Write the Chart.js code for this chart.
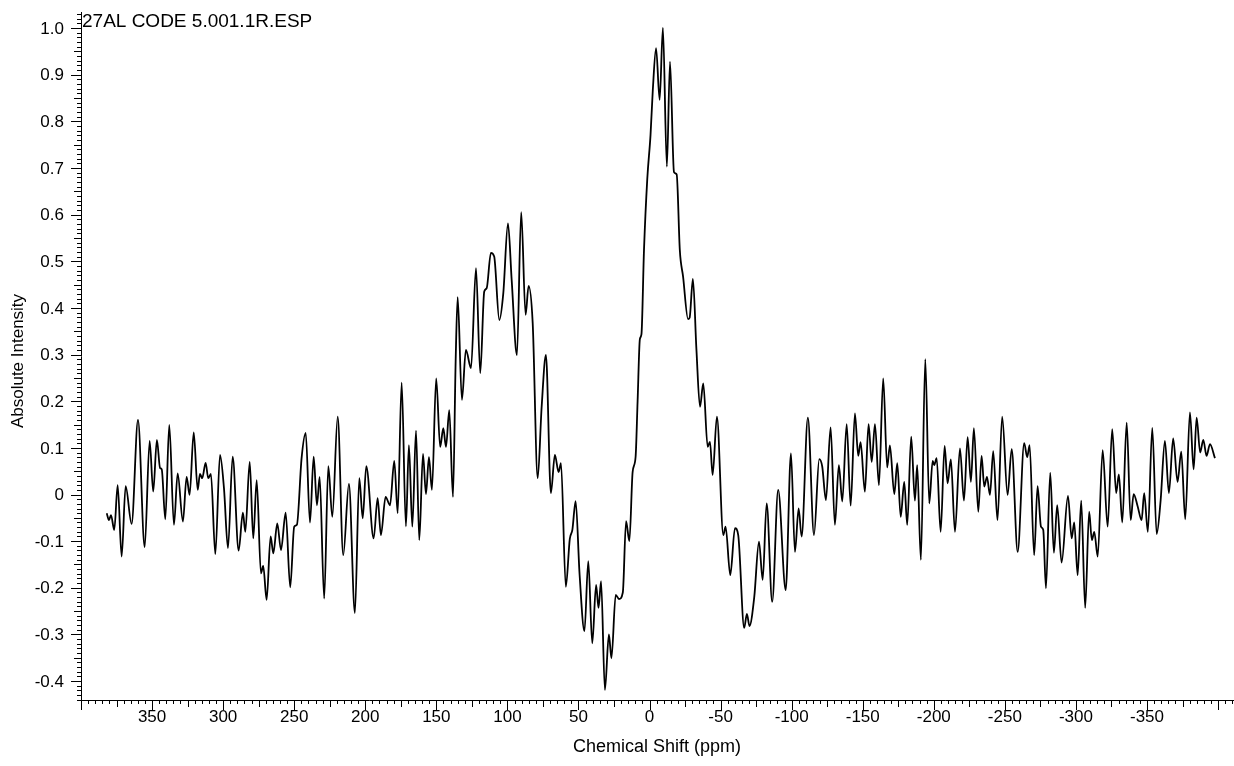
<!DOCTYPE html>
<html>
<head>
<meta charset="utf-8">
<title>27AL CODE 5.001.1R.ESP</title>
<script src="https://cdn.jsdelivr.net/npm/chart.js@4.4.1/dist/chart.umd.min.js"></script>
<style>
  html, body { margin: 0; padding: 0; background: #ffffff; }
  canvas { display: block; }
</style>
</head>
<body>
<canvas id="spectrum" width="1234" height="766"></canvas>
<script>
// 27Al NMR spectrum: chemical shift (ppm) against absolute intensity
const shiftPpm = [
  381.9, 380.3, 378.9, 376.6, 374.2, 371.4, 368.6, 364.4, 359.9, 355.2,
  351.7, 349.2, 346.6, 344.4, 343.2, 340.7, 337.9, 334.6, 332.0, 328.3,
  325.7, 323.6, 320.7, 317.9, 316.3, 314.7, 312.3, 310.5, 308.6, 305.5,
  302.2, 299.4, 296.6, 293.3, 289.1, 286.1, 284.4, 281.3, 278.8, 276.4,
  273.4, 271.8, 269.4, 266.6, 264.7, 261.9, 259.3, 256.0, 252.8, 250.0,
  248.1, 244.8, 241.9, 238.9, 236.3, 234.0, 232.1, 228.9, 226.0, 223.2,
  219.4, 215.5, 211.5, 207.3, 204.2, 201.8, 199.3, 194.1, 191.3, 189.0,
  185.7, 182.6, 179.6, 177.2, 174.4, 171.4, 169.3, 166.9, 164.3, 162.0,
  159.4, 157.3, 155.2, 153.1, 150.1, 147.3, 145.1, 143.2, 140.9, 138.3,
  136.4, 135.0, 132.0, 129.2, 125.6, 122.1, 119.1, 116.3, 114.6, 111.6,
  109.3, 105.7, 102.9, 99.6, 97.0, 93.3, 90.3, 87.2, 85.1, 82.2,
  78.7, 75.9, 72.9, 69.4, 66.6, 64.0, 62.3, 58.9, 56.1, 54.3,
  52.0, 49.2, 45.8, 43.1, 40.3, 37.6, 35.9, 34.1, 31.4, 28.6,
  26.8, 23.8, 21.5, 18.8, 16.5, 14.2, 11.9, 9.8, 8.4, 6.8,
  5.7, 3.9, 1.6, -0.7, -2.3, -4.6, -7.1, -9.4, -12.2, -14.4,
  -17.2, -19.1, -21.3, -23.6, -27.1, -28.2, -30.5, -33.0, -35.5, -37.8,
  -40.9, -42.5, -44.4, -47.4, -51.9, -53.5, -56.8, -60.1, -62.4, -66.6,
  -68.5, -70.3, -73.7, -77.0, -79.6, -82.4, -86.3, -90.5, -95.8, -99.5,
  -102.3, -104.9, -107.0, -111.4, -115.7, -119.4, -121.5, -124.1, -127.4, -130.4,
  -133.2, -135.6, -138.7, -141.5, -144.5, -146.8, -148.5, -151.5, -154.1, -156.3,
  -158.6, -161.4, -164.4, -167.2, -169.1, -172.2, -174.3, -176.7, -179.2, -181.3,
  -184.1, -186.7, -188.3, -190.9, -194.0, -196.8, -199.2, -200.3, -202.0, -204.8,
  -207.6, -209.7, -212.0, -214.9, -218.4, -221.2, -223.8, -226.1, -228.2, -231.3,
  -233.6, -235.5, -237.4, -239.5, -241.8, -244.8, -248.1, -251.9, -254.8, -259.0,
  -263.6, -265.7, -267.4, -270.6, -273.0, -275.4, -277.0, -278.9, -281.9, -284.5,
  -286.8, -289.9, -294.4, -297.0, -298.8, -301.2, -303.7, -306.5, -309.3, -311.2,
  -312.9, -315.3, -318.8, -322.3, -325.5, -328.3, -330.2, -332.6, -335.7, -338.5,
  -340.6, -343.4, -346.2, -348.0, -350.6, -353.7, -356.8, -359.6, -362.6, -365.4,
  -368.4, -371.5, -374.1, -376.9, -380.2, -382.8, -384.9, -387.4, -389.6, -391.9,
  -394.3, -397.8
];

const intensity = [
  -0.040, -0.055, -0.044, -0.076, 0.020, -0.133, 0.018, -0.063, 0.160, -0.113,
  0.115, 0.006, 0.117, 0.057, 0.054, -0.053, 0.149, -0.065, 0.045, -0.058,
  0.038, -0.001, 0.133, 0.010, 0.044, 0.035, 0.068, 0.035, 0.044, -0.128,
  0.085, 0.013, -0.115, 0.081, -0.120, -0.039, -0.080, 0.070, -0.094, 0.031,
  -0.169, -0.153, -0.226, -0.090, -0.126, -0.062, -0.119, -0.039, -0.199, -0.069,
  -0.065, 0.078, 0.132, -0.060, 0.081, -0.023, 0.038, -0.223, 0.061, -0.048,
  0.167, -0.130, 0.023, -0.254, 0.035, -0.051, 0.061, -0.094, -0.008, -0.087,
  -0.005, -0.023, 0.072, -0.040, 0.240, -0.068, 0.106, -0.069, 0.137, -0.098,
  0.087, 0.001, 0.080, 0.010, 0.249, 0.102, 0.142, 0.102, 0.181, -0.005,
  0.288, 0.423, 0.203, 0.310, 0.271, 0.485, 0.260, 0.435, 0.442, 0.518,
  0.510, 0.374, 0.431, 0.581, 0.460, 0.299, 0.605, 0.385, 0.447, 0.367,
  0.035, 0.188, 0.299, 0.003, 0.085, 0.048, 0.067, -0.198, -0.095, -0.076,
  -0.014, -0.172, -0.293, -0.143, -0.319, -0.194, -0.243, -0.186, -0.419, -0.300,
  -0.351, -0.215, -0.224, -0.210, -0.057, -0.100, 0.048, 0.081, 0.200, 0.333,
  0.343, 0.524, 0.676, 0.771, 0.867, 0.957, 0.846, 1.000, 0.703, 0.928,
  0.691, 0.686, 0.524, 0.467, 0.376, 0.379, 0.462, 0.310, 0.188, 0.238,
  0.102, 0.113, 0.042, 0.167, -0.087, -0.069, -0.173, -0.072, -0.087, -0.286,
  -0.256, -0.282, -0.219, -0.101, -0.183, -0.019, -0.230, 0.010, -0.205, 0.088,
  -0.123, -0.030, -0.090, 0.165, -0.087, 0.076, 0.060, -0.012, 0.144, -0.065,
  0.063, -0.015, 0.151, -0.024, 0.174, 0.083, 0.112, 0.006, 0.151, 0.070,
  0.151, 0.020, 0.249, 0.058, 0.105, 0.001, 0.067, -0.048, 0.027, -0.065,
  0.124, -0.013, 0.063, -0.140, 0.290, -0.019, 0.072, 0.063, 0.078, -0.080,
  0.104, 0.024, 0.075, -0.080, 0.099, -0.013, 0.123, 0.027, 0.142, -0.037,
  0.083, 0.017, 0.038, -0.001, 0.093, -0.055, 0.167, -0.001, 0.097, -0.123,
  0.110, 0.080, 0.106, -0.130, 0.018, -0.069, -0.076, -0.201, 0.047, -0.125,
  -0.023, -0.146, -0.003, -0.094, -0.060, -0.173, -0.013, -0.243, -0.037, -0.098,
  -0.080, -0.133, 0.095, -0.069, 0.140, 0.003, 0.043, -0.060, 0.154, -0.055,
  0.001, -0.025, -0.055, 0.003, -0.080, 0.143, -0.085, -0.012, 0.115, 0.003,
  0.120, 0.027, 0.092, -0.053, 0.176, 0.054, 0.165, 0.090, 0.117, 0.083,
  0.108, 0.078
];

// Labelled ticks on each axis
const xTickLabels = [350, 300, 250, 200, 150, 100, 50, 0, -50, -100, -150, -200, -250, -300, -350];
const yTickLabels = [1.0, 0.9, 0.8, 0.7, 0.6, 0.5, 0.4, 0.3, 0.2, 0.1, 0, -0.1, -0.2, -0.3, -0.4];

const sampleName = '27AL CODE 5.001.1R.ESP';
const xTitle = 'Chemical Shift (ppm)';
const yTitle = 'Absolute Intensity';

const FONT = '"Liberation Sans", Arial, Helvetica, sans-serif';

const points = shiftPpm.map((p, i) => ({ x: p, y: intensity[i] }));

// Minor/medium/major tick marks, tick labels, axis titles and sample name
const axisDecor = {
  id: 'axisDecor',
  afterDraw(chart) {
    const { ctx, chartArea: area, scales: { x, y } } = chart;
    ctx.save();
    ctx.strokeStyle = '#000';
    ctx.fillStyle = '#000';
    ctx.lineWidth = 1;

    ctx.beginPath();
    for (let i = 80; i >= -82; i--) {
      const v = i * 5;
      if (v > x.max || v < x.min) continue;
      const px = Math.round(x.getPixelForValue(v)) + 0.5;
      const len = i % 10 === 0 ? 10 : (i % 5 === 0 ? 7 : 4);
      ctx.moveTo(px, area.bottom);
      ctx.lineTo(px, area.bottom + len);
    }
    for (let i = -44; i <= 103; i++) {
      const v = i / 100;
      if (v > y.max || v < y.min) continue;
      const py = Math.round(y.getPixelForValue(v)) + 0.5;
      const len = i % 10 === 0 ? 10 : (i % 5 === 0 ? 7 : 4);
      ctx.moveTo(area.left - len, py);
      ctx.lineTo(area.left, py);
    }
    ctx.stroke();

    ctx.font = '17px ' + FONT;
    ctx.textAlign = 'center';
    ctx.textBaseline = 'top';
    xTickLabels.forEach(v => {
      ctx.fillText(String(v), x.getPixelForValue(v), area.bottom + 9);
    });

    ctx.textAlign = 'right';
    ctx.textBaseline = 'middle';
    yTickLabels.forEach(v => {
      const txt = v === 0 ? '0' : v.toFixed(1);
      ctx.fillText(txt, area.left - 17, y.getPixelForValue(v) + 1);
    });

    ctx.font = '18px ' + FONT;
    ctx.textAlign = 'center';
    ctx.textBaseline = 'middle';
    ctx.fillText(xTitle, (area.left + area.right) / 2, 747);

    ctx.save();
    ctx.font = '17px ' + FONT;
    ctx.translate(18, 361);
    ctx.rotate(-Math.PI / 2);
    ctx.fillText(yTitle, 0, 0);
    ctx.restore();

    ctx.font = '19px ' + FONT;
    ctx.textAlign = 'left';
    ctx.textBaseline = 'alphabetic';
    ctx.fillText(sampleName, area.left + 1, 27);
    ctx.restore();
  }
};

new Chart(document.getElementById('spectrum'), {
  type: 'line',
  data: {
    datasets: [{
      data: points,
      borderColor: '#000000',
      borderWidth: 1.8,
      pointRadius: 0,
      fill: false,
      cubicInterpolationMode: 'monotone'
    }]
  },
  options: {
    responsive: false,
    animation: false,
    devicePixelRatio: 1,
    layout: { padding: { top: 12, right: 1, left: 0, bottom: 0 } },
    plugins: {
      legend: { display: false },
      tooltip: { enabled: false },
      title: { display: false }
    },
    scales: {
      x: {
        type: 'linear',
        reverse: true,
        min: -410.5,
        max: 400,
        grid: { display: false },
        border: { display: true, color: '#000', width: 1 },
        ticks: { display: false },
        afterFit: s => { s.height = 66; }
      },
      y: {
        type: 'linear',
        min: -0.4405,
        max: 1.0343,
        grid: { display: false },
        border: { display: true, color: '#000', width: 1 },
        ticks: { display: false },
        afterFit: s => { s.width = 81; }
      }
    }
  },
  plugins: [axisDecor]
});
</script>
</body>
</html>
